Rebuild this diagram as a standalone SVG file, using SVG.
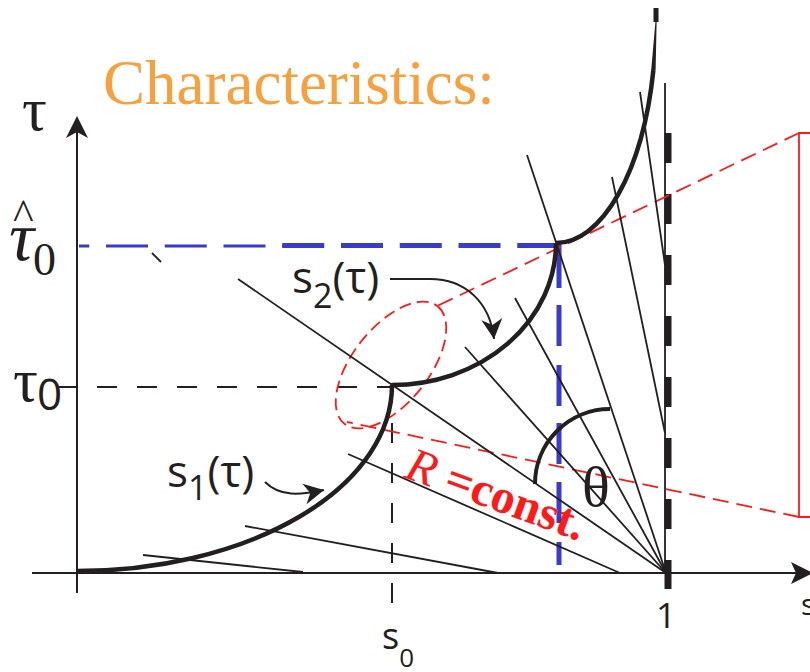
<svg xmlns="http://www.w3.org/2000/svg" width="810" height="672" viewBox="0 0 810 672">
<style>
.k{stroke:#231f20;fill:none}
.thin{stroke-width:1.8}
.thick{stroke-width:4.5}
.red{stroke:#ff1a1a;fill:none;stroke-width:1.8}
.blue{stroke:#3b3bc9;fill:none}
.serif{font-family:"Liberation Serif","Times New Roman",serif;fill:#231f20}
.sans{font-family:"Open Sans","Noto Sans",sans-serif;fill:#231f20}
</style>
<defs>
<marker id="ah" markerUnits="userSpaceOnUse" viewBox="-22 -12 24 24" markerWidth="24" markerHeight="24" refX="0" refY="0" orient="auto">
<path d="M0,0 L-20,-10.5 L-14,0 L-20,10.5 Z" fill="#231f20"/>
</marker>
</defs>
<rect width="810" height="672" fill="#fff"/>

<text x="103" y="104" font-family="'Liberation Serif','Times New Roman',serif" font-size="63" fill="#f8a03c">Characteristics:</text>

<g id="axes">
<path class="k" stroke-width="2" d="M77,593 V130"/>
<path d="M77,116 L88,138 L77,132 L66,138 Z" fill="#231f20"/>
<path class="k" stroke-width="2" d="M32,573 H798"/>
<path d="M813,573 L791,562 L796,573 L791,584 Z" fill="#231f20"/>
<path class="k" stroke-width="1.8" d="M665,83 V573"/>
<path class="k" stroke-width="7" stroke-dasharray="30 31" d="M668,133 V589"/>
</g>

<g id="guides">
<path class="k" stroke-width="2" stroke-dasharray="20 20" d="M57,387 H392"/>
<path class="k" stroke-width="2" stroke-dasharray="20 20" d="M392,383 V604"/>
<path class="blue" stroke-width="3" stroke-dasharray="42 16.75" stroke-dashoffset="31.75" d="M79,246 H287"/>
<path class="blue" stroke-width="5" stroke-dasharray="42 16.75" d="M282.25,245.5 H561"/>
<path class="blue" stroke-width="5" d="M559,243V288 M559,305V346 M559,365V406 M559,423V464 M559,482V523 M559,542V565"/>
</g>

<g id="cone">
<path class="red" d="M810,133 H799 V517 H810" stroke-width="2"/>
<path class="red" stroke-dasharray="16 8" d="M799,133 L433,308"/>
<path class="red" stroke-dasharray="16 8" d="M799,517 L347,422"/>
<ellipse class="red" stroke-dasharray="12 6" cx="0" cy="0" rx="75" ry="38" transform="translate(391,365) rotate(-51.6)"/>
</g>

<g id="characteristics">
<path class="k thin" d="M143,555 L303,572"/>
<path class="k thin" d="M245,526 L498,573"/>
<path class="k thin" d="M348,454 L620,573"/>
<path class="k thin" d="M238,279 L666,573"/>
<path class="k thin" d="M465,347 L666,573"/>
<path class="k thin" d="M515,298 L666,573"/>
<path class="k thin" d="M527,155 L666,573"/>
<path class="k thin" d="M612,177 L665,433"/>
<path class="k thin" d="M640,92 L665,265"/>
<path class="k thin" d="M152,253 L161,262"/>
</g>

<g id="shock-curves">
<path class="k thick" d="M77,571 A315,186 0 0 0 392,385"/>
<path class="k thick" d="M392,385 A164,142 0 0 0 556,243"/>
<path class="k thick" d="M556,243 A100,223 0 0 0 653.4,70"/>
<polygon points="651.2,70 655.6,70 656.6,22 655.4,22" fill="#231f20"/>
<rect x="653.5" y="8" width="5" height="14" fill="#231f20"/>
<path class="k" stroke-width="4" d="M535,484 A75,75 0 0 1 610,409"/>
</g>

<g id="label-arrows">
<path class="k" stroke-width="2" marker-end="url(#ah)" d="M265,482 C280,497 300,495 324,490"/>
<path class="k" stroke-width="2" marker-end="url(#ah)" d="M390,279 H430 C465,279 490,302 494,339"/>
</g>

<g id="labels">
<text class="serif" x="22" y="130" font-size="62">τ</text>
<text class="serif" x="13" y="229" font-size="44">^</text>
<text class="serif" x="9" y="260" font-size="70" font-style="italic">τ</text>
<text class="serif" x="33" y="275" font-size="46">0</text>
<text class="serif" x="13" y="401" font-size="62">τ</text>
<text class="sans" x="37" y="410" font-size="44">0</text>
<path class="k" stroke-width="2" d="M57,387 H77"/>
<text class="sans" x="167" y="487" font-size="44">s<tspan dy="13" font-size="34">1</tspan><tspan dy="-13">(τ)</tspan></text>
<text class="sans" x="292" y="293" font-size="44">s<tspan dy="15" font-size="34">2</tspan><tspan dy="-15">(τ)</tspan></text>
<text class="sans" x="382" y="649" font-size="36">s<tspan dy="18" font-size="26">0</tspan></text>
<text class="sans" x="666" y="628" font-size="35" text-anchor="middle">1</text>
<text class="sans" x="801" y="615" font-size="30">s</text>
<text class="serif" x="582" y="506" font-size="58">θ</text>
<text transform="translate(403,477) rotate(20)" font-family="'Liberation Serif','Times New Roman',serif" font-size="48" fill="#ff1a1a"><tspan font-style="italic">R</tspan><tspan font-weight="bold"> =const.</tspan></text>
</g>
</svg>
